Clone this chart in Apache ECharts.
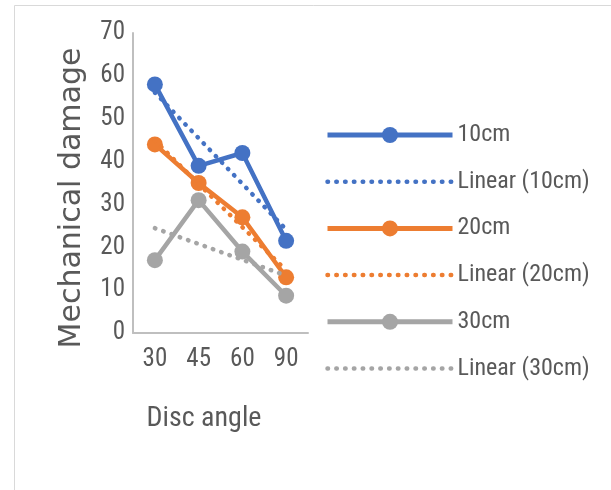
<!DOCTYPE html>
<html>
<head>
<meta charset="utf-8">
<script src="https://cdn.jsdelivr.net/npm/echarts@6/dist/echarts.min.js"></script>
<style>
  html, body { margin: 0; padding: 0; background: #fff; }
  #chart { width: 611px; height: 490px; }
</style>
</head>
<body>
<div id="chart"></div>
<script>
// Disc angle categories and mechanical damage per working depth
const angles = ['30', '45', '60', '90'];
const depth10 = [58, 39, 42, 21.5];
const depth20 = [44, 35, 27, 13];
const depth30 = [17, 31, 19, 8.7];
const yTicks = { min: 0, max: 70, step: 10 };

const NARROW = '"Liberation Sans Narrow", "Roboto Condensed", Roboto, sans-serif';
const TEXT = '#595959';
const DOTS = [0.5, 8.3];

// Least-squares straight line over the category positions 1..n
function linearFit(values) {
  const n = values.length;
  let sx = 0, sy = 0, sxy = 0, sxx = 0;
  values.forEach((v, i) => {
    const x = i + 1;
    sx += x; sy += v; sxy += x * v; sxx += x * x;
  });
  const slope = (n * sxy - sx * sy) / (n * sxx - sx * sx);
  const icpt = (sy - slope * sx) / n;
  return values.map((_, i) => +(icpt + slope * (i + 1)).toFixed(3));
}

const groups = [
  { name: '10cm', color: '#4472C4', data: depth10 },
  { name: '20cm', color: '#ED7D31', data: depth20 },
  { name: '30cm', color: '#A5A5A5', data: depth30 }
];

const mainSeries = groups.map(g => ({
  name: g.name,
  type: 'line',
  data: g.data,
  symbol: 'circle',
  symbolSize: 16,
  showAllSymbol: true,
  itemStyle: { color: g.color },
  lineStyle: { color: g.color, width: 4.5 },
  z: 2
}));

const trendSeries = groups.map(g => ({
  name: 'Linear (' + g.name + ')',
  type: 'line',
  data: linearFit(g.data),
  symbol: 'none',
  itemStyle: { color: g.color },
  lineStyle: { color: g.color, width: 4.5, type: DOTS, cap: 'round' },
  z: 3
}));

// Legend entries: series line with marker, trend line dotted without marker
const legendData = [];
groups.forEach(g => {
  legendData.push({
    name: g.name,
    lineStyle: { color: g.color, width: 5 }
  });
  legendData.push({
    name: 'Linear (' + g.name + ')',
    itemStyle: { opacity: 0 },
    lineStyle: { color: g.color, width: 4.5, type: DOTS, cap: 'round' }
  });
});

const chart = echarts.init(document.getElementById('chart'), null, { renderer: 'canvas' });
chart.setOption({
  animation: false,
  backgroundColor: '#fff',
  grid: { left: 133, top: 33, width: 175, height: 300 },
  xAxis: {
    type: 'category',
    data: angles,
    boundaryGap: true,
    axisLine: { lineStyle: { color: '#BFBFBF', width: 2 } },
    axisTick: { show: false },
    axisLabel: { color: TEXT, fontFamily: NARROW, fontSize: 25, margin: 14 }
  },
  yAxis: {
    type: 'value',
    min: yTicks.min,
    max: yTicks.max,
    interval: yTicks.step,
    splitLine: { show: false },
    axisLine: { show: true, lineStyle: { color: '#BFBFBF', width: 2 } },
    axisTick: { show: false },
    axisLabel: { color: TEXT, fontFamily: NARROW, fontSize: 25, margin: 8 }
  },
  legend: {
    orient: 'vertical',
    left: 325,
    top: 122,
    padding: 0,
    itemWidth: 125,
    itemHeight: 20,
    itemGap: 20.7,
    data: legendData,
    textStyle: { color: TEXT, fontFamily: NARROW, fontSize: 24, lineHeight: 26 }
  },
  graphic: [
    {
      type: 'rect',
      shape: { x: 14.5, y: 5.5, width: 640, height: 520 },
      style: { fill: 'none', stroke: '#D9D9D9', lineWidth: 1 },
      silent: true
    },
    {
      type: 'text',
      x: 72, y: 198,
      rotation: Math.PI / 2,
      style: {
        text: 'Mechanical damage',
        fill: TEXT,
        font: '30px "DejaVu Sans", sans-serif',
        align: 'center',
        verticalAlign: 'middle'
      }
    },
    {
      type: 'text',
      x: 204, y: 419,
      style: {
        text: 'Disc angle',
        fill: TEXT,
        font: '28px ' + NARROW,
        align: 'center',
        verticalAlign: 'middle'
      }
    }
  ],
  series: mainSeries.concat(trendSeries)
});
</script>
</body>
</html>
